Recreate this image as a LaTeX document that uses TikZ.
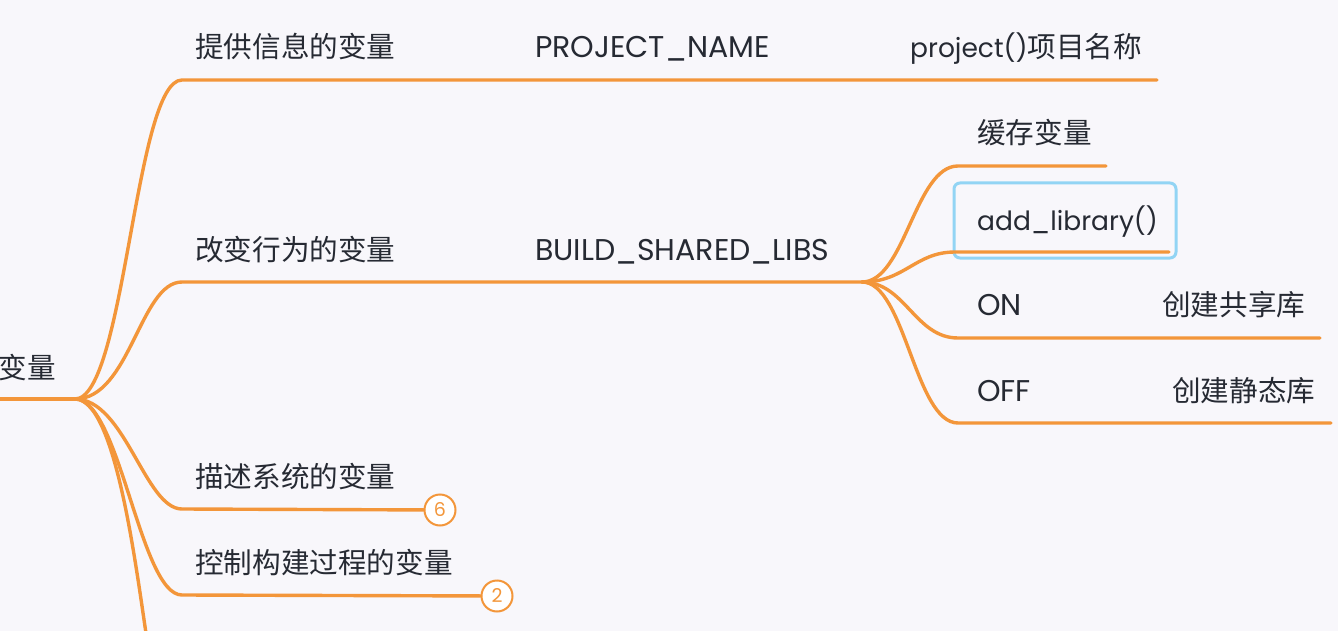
\documentclass[tikz,border=0pt]{standalone}
\usepackage{fontspec}
\setmainfont{Poppins}
\newfontfamily\cjk{Noto Sans CJK SC}
\definecolor{bg}{HTML}{F8F7FB}
\definecolor{br}{HTML}{F3963A}
\definecolor{tx}{HTML}{262A33}
\definecolor{sel}{HTML}{92D4F4}
\begin{document}
\begin{tikzpicture}[x=1pt,y=-1pt,
  lbl/.style={anchor=base west,inner sep=0pt,text=tx,font=\fontsize{26.5}{30}\selectfont},
  caps/.style={lbl,font=\fontsize{30}{32}\selectfont},
  zh/.style={lbl,font=\cjk\fontsize{28.6}{30}\selectfont},
  edge/.style={draw=br,line width=3.4pt,line cap=round},
  badge/.style={circle,draw=br,fill=white,line width=2pt,minimum size=31pt,inner sep=0pt,text=br,font=\fontsize{19}{20}\selectfont}]
\fill[bg] (0,0) rectangle (1338,631);
\useasboundingbox (0,0) rectangle (1338,631);
% root
\node[zh,anchor=base east] (root) at (56,378) {变量};
\coordinate (r0) at (-5,399);
\coordinate (o) at (75,399);
% level 1 coordinates
\coordinate (a1) at (182,80);  \coordinate (a1e) at (1157,80);
\coordinate (a2) at (182,282); \coordinate (s) at (862,282);
\coordinate (a3) at (182,509);
\coordinate (a4) at (182,595);
\coordinate (a5) at (147,640);
% texts level 1
\node[zh] (t1) at (195,58) {提供信息的变量};
\node[caps] (t1b) at (535,58) {PROJECT\_NAME};
\node[lbl] (t1c) at (910,58) {project()\cjk\fontsize{28.6}{30}\selectfont 项目名称};
\node[zh] (t2) at (195,260) {改变行为的变量};
\node[caps] (t2b) at (535,260) {BUILD\_SHARED\_LIBS};
\node[zh] (t3) at (195,487) {描述系统的变量};
\node[zh] (t4) at (195,573) {控制构建过程的变量};
\node[badge] (b6) at (440,510) {6};
\node[badge] (b2) at (497,596) {2};
% sub level
\coordinate (c1) at (958,166); \coordinate (c1e) at (1106,166);
\coordinate (c2) at (955,252); \coordinate (c2e) at (1169,252);
\coordinate (c3) at (958,338); \coordinate (c3e) at (1320,338);
\coordinate (c4) at (958,423); \coordinate (c4e) at (1331,423);
\node[zh] (u1) at (977,144) {缓存变量};
\node[lbl] (u2) at (977,230) {add\_library()};
\node[caps] (u3) at (977,315) {ON};
\node[zh] (u3b) at (1162,315) {创建共享库};
\node[caps] (u4) at (977,401) {OFF};
\node[zh] (u4b) at (1172,401) {创建静态库};
% selection box
\draw[sel,line width=3pt,rounded corners=6pt] (954,183) rectangle (1176,258);
% connectors
\draw[edge] (r0) -- (o);
\draw[edge] (o) .. controls (125,399) and (135,80) .. (a1) -- (a1e);
\draw[edge] (o) .. controls (130,399) and (140,282) .. (a2) -- (s);
\draw[edge] (o) .. controls (125,399) and (145,509) .. (a3) -- (b6);
\draw[edge] (o) .. controls (120,399) and (140,595) .. (a4) -- (b2);
\draw[edge] (o) .. controls (115,399) and (135,560) .. (a5);
\draw[edge] (s) .. controls (905,282) and (915,166) .. (c1) -- (c1e);
\draw[edge] (s) .. controls (905,282) and (915,252) .. (c2) -- (c2e);
\draw[edge] (s) .. controls (905,282) and (915,338) .. (c3) -- (c3e);
\draw[edge] (s) .. controls (905,282) and (915,423) .. (c4) -- (c4e);
\end{tikzpicture}
\end{document}
